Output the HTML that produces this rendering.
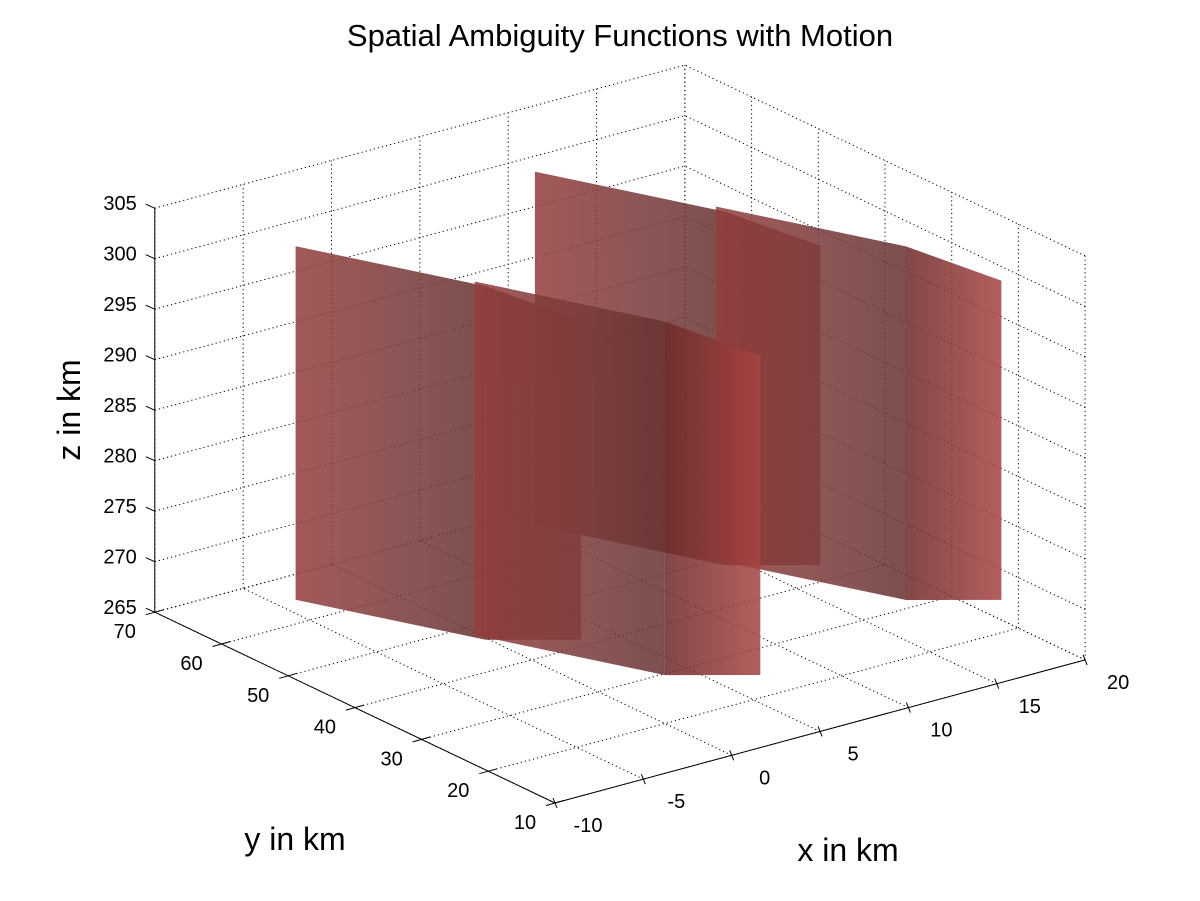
<!DOCTYPE html>
<html><head><meta charset="utf-8"><style>
html,body{margin:0;padding:0;background:#fff;}
svg{display:block;font-family:"Liberation Sans",sans-serif;}
</style></head><body>
<svg id="chart" width="1200" height="901" viewBox="0 0 1200 901">
<defs>
<linearGradient id="gLong" x1="0" y1="0" x2="1" y2="0">
<stop offset="0" stop-color="#943d3d"/><stop offset="0.55" stop-color="#7a3b3b"/><stop offset="1" stop-color="#683333"/>
</linearGradient>
<linearGradient id="gNarrow" x1="0" y1="0" x2="1" y2="0">
<stop offset="0" stop-color="#6e2a2a"/><stop offset="1" stop-color="#a84444"/>
</linearGradient>
</defs>
<rect width="1200" height="901" fill="#fff"/>
<g id="grid"></g>
<g id="blobs"></g>
<g id="axes"></g>
<text x="620" y="46" text-anchor="middle" font-size="31">Spatial Ambiguity Functions with Motion</text>
<text transform="translate(80,410) rotate(-90)" text-anchor="middle" font-size="32">z in km</text>
<text x="295" y="850" text-anchor="middle" font-size="32">y in km</text>
<text x="848" y="861" text-anchor="middle" font-size="32">x in km</text>
</svg>
<script>
const xTicks = [-10,-5,0,5,10,15,20];
const yTicks = [10,20,30,40,50,60,70];
const zTicks = [265,270,275,280,285,290,295,300,305];
// blobs: [xmin,xmax], [ymin,ymax], [zmin,zmax], shear dz/dy, tilt dz/dx of top and bottom
const blobX = [[13.4,18.8],[17.3,22.7],[-0.9,4.5],[2.9,8.3]];
const blobY = [[46.5,75],[29.7,58.2],[44.5,73],[27.7,56.2]];
const blobZ = [[266,301],[266,301],[266,301],[266,301]];
const blobShear = [-0.176,-0.176,-0.176,-0.176];
const blobTopTiltX = [-1.1,-1.1,-1.1,-1.1];
const blobBotTiltX = [-0.47,-0.47,-0.47,-0.47];

const NS='http://www.w3.org/2000/svg';
function P(x,y,z){return [555+17.67*(x+10)-6.67*(y-10), 803-4.77*(x+10)-3.18*(y-10)-10.1*(z-265)];}
function mk(tag,attrs,parent){const e=document.createElementNS(NS,tag);for(const k in attrs)e.setAttribute(k,attrs[k]);parent.appendChild(e);return e;}
function line(a,b,parent,dash){return mk('line',{x1:a[0],y1:a[1],x2:b[0],y2:b[1],stroke:'#000','stroke-width':1,'stroke-dasharray':dash?'1.2,3':'none'},parent);}
const grid=document.getElementById('grid'), axes=document.getElementById('axes'), blobs=document.getElementById('blobs');
const X0=-10,X1=20,Y0=10,Y1=70,Z0=265,Z1=305;
xTicks.forEach(x=>{const l=line(P(x,Y1,Z0),P(x,Y1,Z1),grid,true);

});
zTicks.forEach(z=>{let l=line(P(X0,Y1,z),P(X1,Y1,z),grid,true);


l=line(P(X1,Y0,z),P(X1,Y1,z),grid,true);

});
yTicks.forEach(y=>{let l=line(P(X1,y,Z0),P(X1,y,Z1),grid,true);


l=line(P(X0,y,Z0),P(X1,y,Z0),grid,true);

});
xTicks.forEach(x=>{const l=line(P(x,Y0,Z0),P(x,Y1,Z0),grid,true);

});
function pts(arr){return arr.map(p=>p[0].toFixed(1)+','+p[1].toFixed(1)).join(' ');}
blobX.forEach((bx,i)=>{
  const [x0,x1]=bx,[y0,y1]=blobY[i],[z0,z1]=blobZ[i],s=blobShear[i],tt=blobTopTiltX[i],bt=blobBotTiltX[i];
  const T=(x,y)=>P(x,y,z1+s*(y-y0)+tt*(x-x0));
  const B=(x,y)=>P(x,y,z0+s*(y-y0)+bt*(x-x0));
  const g=mk('g',{opacity:0.86},blobs);
  
  
  const top=mk('polygon',{points:pts([T(x0,y0),T(x1,y0),T(x1,y1),T(x0,y1)]),fill:'#733a3a'},g);
  
  
  const lf=mk('polygon',{points:pts([B(x0,y1),B(x0,y0),T(x0,y0),T(x0,y1)]),fill:'url(#gLong)'},g);
  
  
  const nf=mk('polygon',{points:pts([B(x0,y0),B(x1,y0),T(x1,y0),T(x0,y0)]),fill:'url(#gNarrow)'},g);
  
  
});
let a=line(P(X0,Y0,Z0),P(X1,Y0,Z0),axes,false);


a=line(P(X0,Y0,Z0),P(X0,Y1,Z0),axes,false);


a=line(P(X0,Y1,Z0),P(X0,Y1,Z1),axes,false);


function txt(s,x,y,anchor){const t=mk('text',{x:x,y:y,'text-anchor':anchor,'font-size':20},axes);t.textContent=s;return t;}
xTicks.forEach(x=>{const p=P(x,Y0,Z0);
  const tk=line([p[0]+2,p[1]+5],[p[0]-2,p[1]-5],axes,false);
  
  
  const t=txt(String(x),p[0]+33,p[1]+29,'middle');
  
  });
yTicks.forEach(y=>{const p=P(X0,y,Z0);
  const tk=line([p[0]-9,p[1]+2.5],[p[0]+9,p[1]-2.5],axes,false);
  
  
  const t=txt(String(y),p[0]-30,p[1]+26,'middle');
  
  });
zTicks.forEach(z=>{const p=P(X0,Y1,z);
  const tk=line([p[0]-9,p[1]-4],[p[0],p[1]],axes,false);
  
  
  const t=txt(String(z),p[0]-18,p[1]+2,'end');
  
  });
</script>
</body></html>
